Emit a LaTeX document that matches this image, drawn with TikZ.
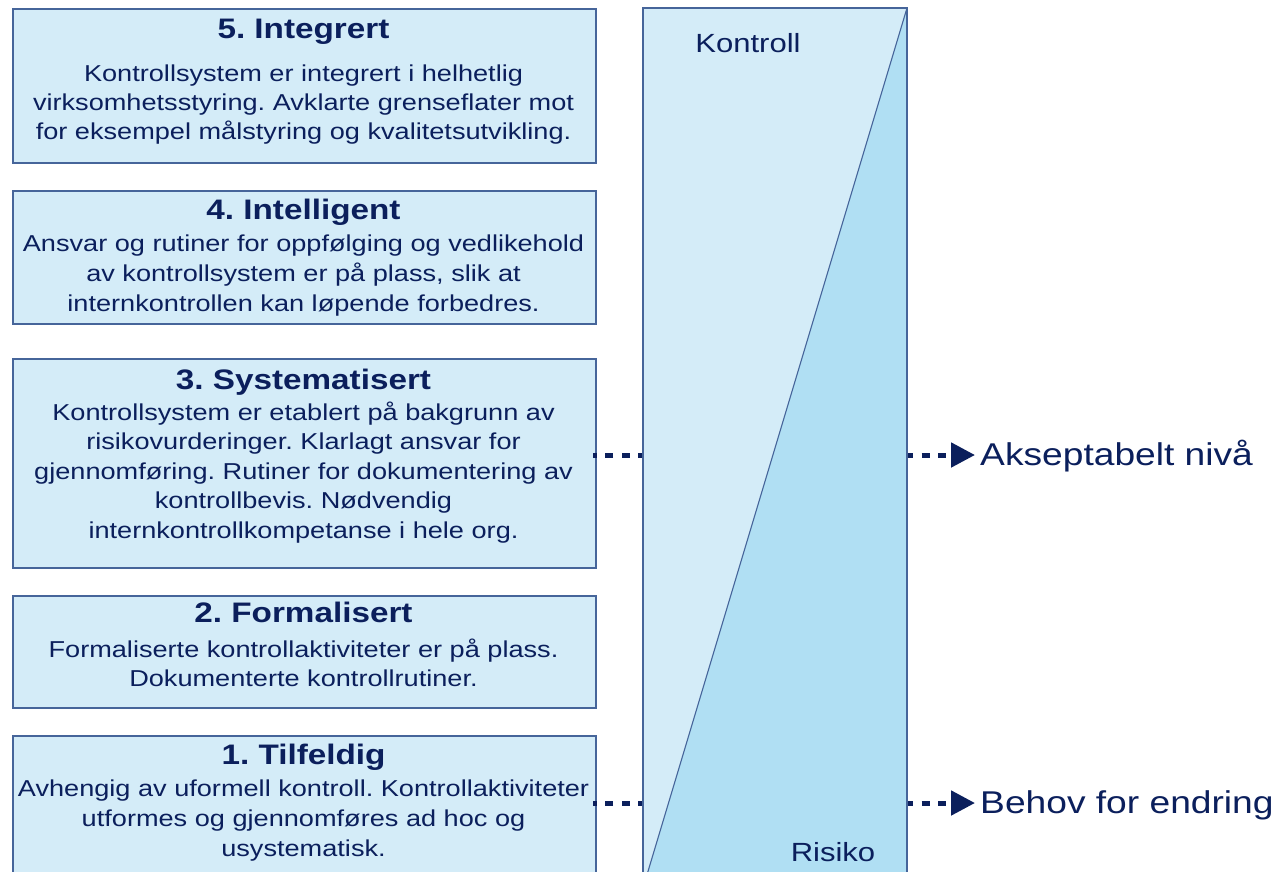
\documentclass[tikz,border=0pt]{standalone}
\usepackage{fontspec}
\setmainfont{Liberation Sans}[FakeStretch=1.18]
\usetikzlibrary{arrows.meta}
\definecolor{navy}{HTML}{0B1F5C}
\definecolor{boxfill}{HTML}{D4ECF8}
\definecolor{darkfill}{HTML}{B0DFF3}
\definecolor{edge}{HTML}{46659A}
\tikzset{
  levelbox/.style={draw=edge, line width=1.5pt, fill=boxfill, minimum width=583pt, anchor=north west, inner sep=0pt},
  title/.style={text=navy, font=\fontsize{28.2}{32}\selectfont\bfseries, anchor=base, inner sep=0pt},
  body/.style={text=navy, font=\fontsize{23}{29.5}\selectfont, anchor=base, inner sep=0pt},
  dotline/.style={navy, line width=5pt, dash pattern=on 8pt off 8.5pt, dash phase=3pt},
  side/.style={text=navy, font=\fontsize{31.5}{36}\selectfont, anchor=base west, inner sep=0pt},
  lbl/.style={text=navy, font=\fontsize{26.3}{30}\selectfont, anchor=base, inner sep=0pt}
}
\frenchspacing
\begin{document}
\begin{tikzpicture}[x=1pt,y=-1pt]
\useasboundingbox (0,0) rectangle (1276,871);
% rectangle corners
\coordinate (rtl) at (643,8);
\coordinate (rtr) at (907,8);
\coordinate (rbl) at (643,888);
\coordinate (rbr) at (907,888);
\coordinate (r3l) at (643,455);
\coordinate (r3r) at (905,455);
\coordinate (r1l) at (643,803);
\coordinate (r1r) at (905,803);
\coordinate (e3) at (593,455);
\coordinate (e1) at (593,803);
% side labels
\node[side] (akc) at (980,465) {Akseptabelt nivå};
\node[side] (beh) at (980,813) {Behov for endring};
% boxes
\node[levelbox, minimum height=154pt] (b5) at (12,8) {};
\node[levelbox, minimum height=133pt] (b4) at (12,190) {};
\node[levelbox, minimum height=209pt] (b3) at (12,358) {};
\node[levelbox, minimum height=112pt] (b2) at (12,595) {};
\node[levelbox, minimum height=150pt] (b1) at (12,735) {};
% dotted connectors
\draw[dotline] (r3l) -- (e3);
\draw[dotline] (r1l) -- (e1);
\draw[dotline, dash phase=0pt, -{Triangle[length=24pt,width=24pt]}, shorten >=5pt] (r3r) -- (akc.west |- r3r);
\draw[dotline, dash phase=0pt, -{Triangle[length=24pt,width=24pt]}, shorten >=5pt] (r1r) -- (beh.west |- r1r);
% titles
\node[title] (t5) at (303.5,38.5) {5. Integrert};
\node[title] (t4) at (303.5,219) {4. Intelligent};
\node[title] (t3) at (303.5,389) {3. Systematisert};
\node[title] (t2) at (303.5,622) {2. Formalisert};
\node[title] (t1) at (303.5,764) {1. Tilfeldig};
% bodies
\node[body] (d5a) at (303.5,81) {Kontrollsystem er integrert i helhetlig};
\node[body] (d5b) at (303.5,110) {virksomhetsstyring. Avklarte grenseflater mot};
\node[body] (d5c) at (303.5,139) {for eksempel målstyring og kvalitetsutvikling.};
\node[body] (d4a) at (303.5,251) {Ansvar og rutiner for oppfølging og vedlikehold};
\node[body] (d4b) at (303.5,281) {av kontrollsystem er på plass, slik at};
\node[body] (d4c) at (303.5,311) {internkontrollen kan løpende forbedres.};
\node[body] (d3a) at (303.5,420) {Kontrollsystem er etablert på bakgrunn av};
\node[body] (d3b) at (303.5,449.5) {risikovurderinger. Klarlagt ansvar for};
\node[body] (d3c) at (303.5,479) {gjennomføring. Rutiner for dokumentering av};
\node[body] (d3d) at (303.5,508.5) {kontrollbevis. Nødvendig};
\node[body] (d3e) at (303.5,538) {internkontrollkompetanse i hele org.};
\node[body] (d2a) at (303.5,657) {Formaliserte kontrollaktiviteter er på plass.};
\node[body] (d2b) at (303.5,686.5) {Dokumenterte kontrollrutiner.};
\node[body] (d1a) at (303.5,796) {Avhengig av uformell kontroll. Kontrollaktiviteter};
\node[body] (d1b) at (303.5,826) {utformes og gjennomføres ad hoc og};
\node[body] (d1c) at (303.5,856) {usystematisk.};
% tall rectangle
\fill[boxfill] (rtl) rectangle (rbr);
\fill[darkfill] (rtr) -- (rbl) -- (rbr) -- cycle;
\draw[edge, line width=1.1pt] (rtr) -- (rbl);
\draw[edge, line width=1.5pt] (rbl) -- (rtl) -- (rtr) -- (rbr);
\node[lbl] (kon) at (748,52) {Kontroll};
\node[lbl] (ris) at (833,861) {Risiko};
\end{tikzpicture}
\end{document}
